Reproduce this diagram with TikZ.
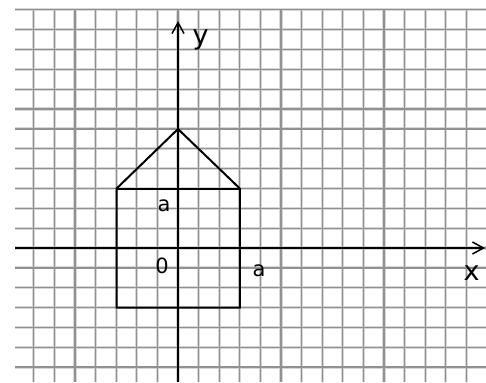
\documentclass[tikz,border=0pt]{standalone}
\usepackage{fontspec}
\setmainfont{DejaVu Sans}
\usetikzlibrary{arrows.meta}
\definecolor{gridgray}{RGB}{145,145,145}
\definecolor{gridhalo}{RGB}{215,215,215}
\tikzset{
  gridhalo/.style={draw=gridhalo, line width=3.2pt},
  gridline/.style={draw=gridgray, line width=1.3pt},
  axisline/.style={draw=black, line width=1.8pt, -{Straight Barb[length=11pt,width=12pt,line width=1.5pt]}},
  houseline/.style={draw=black, line width=2pt, line join=miter},
  smalllabel/.style={inner sep=0pt, anchor=base, font=\fontsize{21}{25}\selectfont},
  biglabel/.style={inner sep=0pt, anchor=base, font=\fontsize{27}{32}\selectfont}
}
\begin{document}
\begin{tikzpicture}[x=1pt,y=-1pt]
\useasboundingbox[fill=white] (0,0) rectangle (486,382);
% grid halo
\foreach \k in {-12,...,6}
  \draw[gridhalo] (15,{248+19.85*\k}) -- (486,{248+19.85*\k});
\foreach \k in {-7,...,14}
  \draw[gridhalo] ({178+20.6*\k},10.4) -- ({178+20.6*\k},382);
% grid
\foreach \k in {-12,...,6}
  \draw[gridline] (15,{248+19.85*\k}) -- (486,{248+19.85*\k});
\foreach \k in {-7,...,14}
  \draw[gridline] ({178+20.6*\k},10.4) -- ({178+20.6*\k},382);
% coordinates
\coordinate (o) at (178,248);
\coordinate (xl) at (15,248);
\coordinate (xr) at (485,248);
\coordinate (yb) at (178,382);
\coordinate (yt) at (178,21);
\coordinate (bl) at (116.6,307.5);
\coordinate (br) at (239.8,307.5);
\coordinate (tr) at (239.8,188.5);
\coordinate (tl) at (116.6,188.5);
\coordinate (apex) at (178,129);
% axes
\draw[axisline] (xl) -- (xr);
\draw[axisline] (yb) -- (yt);
% house
\draw[houseline] (bl) -- (br) -- (tr) -- (apex) -- (tl) -- cycle;
\draw[houseline] (tl) -- (tr);
% labels
\node[biglabel] (ylab) at (200.5,45) {y};
\node[biglabel] (xlab) at (471.5,280) {x};
\node[smalllabel] (atop) at (164,211) {a};
\node[smalllabel] (zero) at (162,273) {0};
\node[smalllabel] (aright) at (259,276) {a};
\end{tikzpicture}
\end{document}
